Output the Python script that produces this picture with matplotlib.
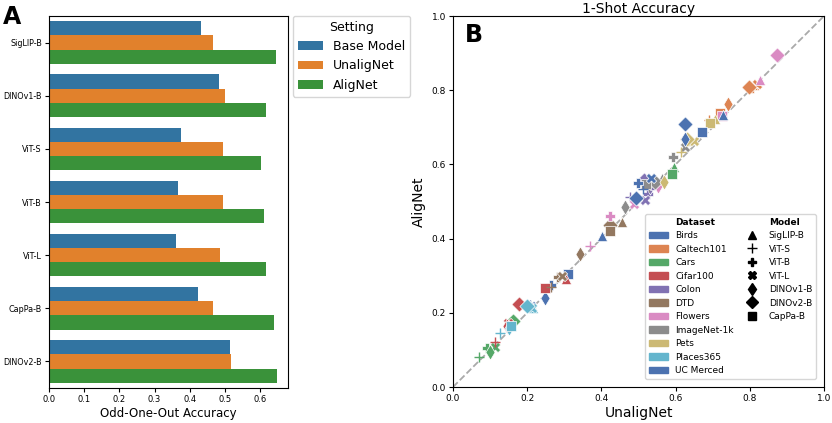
import numpy as np
import matplotlib.pyplot as plt
from matplotlib.patches import Patch
from matplotlib.lines import Line2D

# ---- panel A data ----
models_a = ["SigLIP-B", "DINOv1-B", "ViT-S", "ViT-B", "ViT-L", "CapPa-B", "DINOv2-B"]
base_model = [0.432, 0.482, 0.374, 0.367, 0.360, 0.424, 0.513]
unalignet = [0.467, 0.500, 0.493, 0.495, 0.487, 0.467, 0.518]
alignet = [0.645, 0.616, 0.603, 0.612, 0.617, 0.639, 0.649]
settings = ["Base Model", "UnaligNet", "AligNet"]

# ---- panel B data (UnaligNet, AligNet) ----
datasets = ["Birds", "Caltech101", "Cars", "Cifar100", "Colon", "DTD", "Flowers",
            "ImageNet-1k", "Pets", "Places365", "UC Merced"]
models_b = ["SigLIP-B", "ViT-S", "ViT-B", "ViT-L", "DINOv1-B", "DINOv2-B", "CapPa-B"]
# order of values follows models_b
unalig_b = {
    "Birds":       [0.402, 0.208, 0.265, 0.210, 0.247, 0.624, 0.310],
    "Caltech101":  [0.812, 0.689, 0.805, 0.820, 0.741, 0.798, 0.719],
    "Cars":        [0.596, 0.069, 0.092, 0.114, 0.099, 0.162, 0.590],
    "Cifar100":    [0.305, 0.112, 0.150, 0.148, 0.145, 0.177, 0.247],
    "Colon":       [0.520, 0.478, 0.525, 0.518, 0.530, 0.515, 0.530],
    "DTD":         [0.456, 0.265, 0.283, 0.293, 0.341, 0.422, 0.424],
    "Flowers":     [0.827, 0.368, 0.422, 0.488, 0.553, 0.874, 0.725],
    "ImageNet-1k": [0.562, 0.527, 0.593, 0.625, 0.463, 0.545, 0.520],
    "Pets":        [0.705, 0.615, 0.637, 0.650, 0.569, 0.630, 0.692],
    "Places365":   [0.215, 0.128, 0.203, 0.212, 0.150, 0.200, 0.157],
    "UC Merced":   [0.728, 0.512, 0.499, 0.535, 0.625, 0.494, 0.672],
}
alig_b = {
    "Birds":       [0.407, 0.222, 0.275, 0.218, 0.241, 0.708, 0.305],
    "Caltech101":  [0.815, 0.721, 0.806, 0.818, 0.762, 0.808, 0.738],
    "Cars":        [0.594, 0.082, 0.106, 0.109, 0.093, 0.179, 0.573],
    "Cifar100":    [0.290, 0.122, 0.167, 0.173, 0.165, 0.223, 0.266],
    "Colon":       [0.548, 0.511, 0.520, 0.505, 0.540, 0.558, 0.545],
    "DTD":         [0.446, 0.269, 0.297, 0.300, 0.358, 0.437, 0.420],
    "Flowers":     [0.827, 0.380, 0.462, 0.493, 0.542, 0.895, 0.730],
    "ImageNet-1k": [0.564, 0.540, 0.621, 0.648, 0.486, 0.553, 0.548],
    "Pets":        [0.722, 0.633, 0.664, 0.662, 0.553, 0.668, 0.711],
    "Places365":   [0.212, 0.145, 0.218, 0.214, 0.158, 0.218, 0.165],
    "UC Merced":   [0.733, 0.534, 0.549, 0.564, 0.668, 0.509, 0.688],
}

bar_colors = ["#3274a1", "#e1812c", "#3a923a"]
deep = ["#4c72b0", "#dd8452", "#55a868", "#c44e52", "#8172b3", "#937860",
        "#da8bc3", "#8c8c8c", "#ccb974", "#64b5cd"]
markers = ["^", "+", "P", "X", "d", "D", "s"]
msizes = [55, 55, 55, 55, 60, 60, 50]

fig = plt.figure(figsize=(8.32, 4.23), dpi=100)

# ---- panel A ----
ax1 = fig.add_axes([49 / 832, 1 - 388 / 423, 239 / 832, 372 / 423])
h = 0.8 / 3
y = np.arange(len(models_a))
for i, vals in enumerate([base_model, unalignet, alignet]):
    ax1.barh(y - 0.4 + h * (i + 0.5), vals, height=h, color=bar_colors[i], label=settings[i])
ax1.set_ylim(6.5, -0.5)
ax1.set_xlim(0, 0.679)
ax1.set_yticks(y)
ax1.set_yticklabels(models_a, fontsize=5.8)
ax1.set_xticks(np.arange(0, 0.61, 0.1))
ax1.tick_params(axis="x", labelsize=6, pad=2, length=3)
ax1.tick_params(axis="y", pad=2, length=3)
ax1.set_xlabel("Odd-One-Out Accuracy", fontsize=8.5, labelpad=2)
ax1.legend(title="Setting", loc="upper left", bbox_to_anchor=(1.02, 1.0),
           fontsize=9, title_fontsize=9, borderaxespad=0)
fig.text(3 / 832, 1 - 24 / 423, "A", fontsize=17, fontweight="bold")

# ---- panel B ----
ax2 = fig.add_axes([453 / 832, 1 - 387 / 423, 371 / 832, 371 / 423])
ax2.plot([0, 1], [0, 1], "--", color="#aaaaaa", lw=1.3, zorder=1)
for di, ds in enumerate(datasets):
    c = deep[di % len(deep)]
    for mi, m in enumerate(markers):
        if m == "+":
            ax2.scatter(unalig_b[ds][mi], alig_b[ds][mi], marker=m, s=msizes[mi],
                        color=c, linewidths=1.0, zorder=3)
        else:
            ax2.scatter(unalig_b[ds][mi], alig_b[ds][mi], marker=m, s=msizes[mi],
                        color=c, edgecolors="white", linewidths=0.5, zorder=3)
ax2.set_xlim(0, 1)
ax2.set_ylim(0, 1)
ax2.tick_params(labelsize=6.5, pad=2, length=3)
ax2.set_xlabel("UnaligNet", fontsize=10, labelpad=2)
ax2.set_ylabel("AligNet", fontsize=10, labelpad=4)
ax2.set_title("1-Shot Accuracy", fontsize=10, pad=1)
ax2.text(0.033, 0.98, "B", transform=ax2.transAxes, fontsize=17,
         fontweight="bold", va="top")

blank = Line2D([], [], linestyle="none", marker="")
handles = [blank] + [Patch(color=deep[i % len(deep)]) for i in range(len(datasets))]
labels = ["Dataset"] + datasets
handles += [blank] + [Line2D([], [], linestyle="none", marker=m, color="black",
                             markersize=6 if m != "+" else 7) for m in markers]
labels += ["Model"] + models_b
handles += [blank] * 4
labels += [""] * 4
leg = ax2.legend(handles, labels, ncol=2, loc="lower right", fontsize=6.5,
                 handlelength=2.1, labelspacing=0.5, columnspacing=1.0,
                 handletextpad=0.8, bbox_to_anchor=(0.99, 0.01))
for t in leg.get_texts():
    if t.get_text() in ("Dataset", "Model"):
        t.set_fontweight("bold")

fig.savefig("out.png", dpi=100)
